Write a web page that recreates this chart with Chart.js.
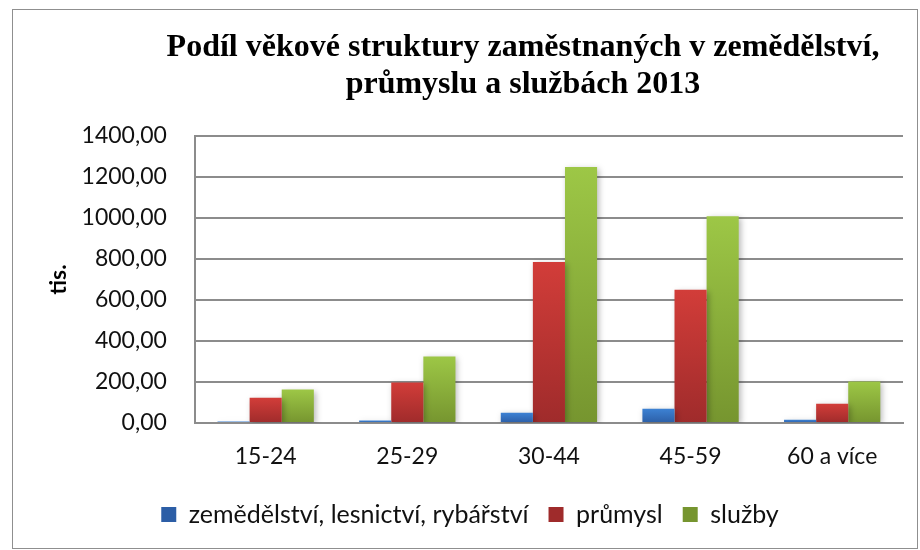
<!DOCTYPE html>
<html>
<head>
<meta charset="utf-8">
<script src="https://cdn.jsdelivr.net/npm/chart.js@4"></script>
<style>
  body { margin: 0; background: #fff; }
  #wrap { position: relative; width: 920px; height: 550px; }
  #frame { position: absolute; left: 12px; top: 9px; width: 904px; height: 538px;
           border: 1.5px solid #8f8f8f; pointer-events: none; }
</style>
</head>
<body>
<div id="wrap">
  <canvas id="ageChart" width="920" height="550"></canvas>
  <div id="frame"></div>
</div>
<script>
// Age groups
const ageGroups = ['15-24', '25-29', '30-44', '45-59', '60 a více'];

// Employed persons (thousands) per sector
const zemedelstvi = [7, 12, 50, 70, 16];
const prumysl = [123, 198, 785, 650, 94];
const sluzby = [163, 325, 1249, 1008, 203];

// Y axis range
const yMin = 0;
const yMax = 1400;
const yStep = 200;

const titleLines = ['Podíl věkové struktury zaměstnaných v zemědělství,', 'průmyslu a službách 2013'];

// vertical gradient per bar: light at the top, dark at the bottom
function barGradient(light, dark) {
    return function (context) {
        const chart = context.chart;
        if (!chart.chartArea || context.type !== 'data') return light;
        const yScale = chart.scales.y;
        const top = yScale.getPixelForValue(context.raw);
        const base = yScale.getPixelForValue(0);
        if (!isFinite(top) || base - top < 1) return dark;
        const g = chart.ctx.createLinearGradient(0, top, 0, base);
        g.addColorStop(0, light);
        g.addColorStop(1, dark);
        return g;
    };
}

// title drawn in serif bold like the original
const titlePlugin = {
    id: 'serifTitle',
    afterDraw(chart) {
        const ctx = chart.ctx;
        ctx.save();
        ctx.font = 'bold 32px "Liberation Serif", "Times New Roman", serif';
        ctx.fillStyle = '#000';
        ctx.textAlign = 'center';
        ctx.textBaseline = 'alphabetic';
        ctx.fillText(titleLines[0], 523, 56);
        ctx.fillText(titleLines[1], 523, 93);
        ctx.restore();
    }
};

// soft shadow behind bars
const shadowPlugin = {
    id: 'barShadow',
    beforeDatasetsDraw(chart) {
        const ctx = chart.ctx;
        ctx.save();
        ctx.shadowColor = 'rgba(0,0,0,0.28)';
        ctx.shadowBlur = 6;
        ctx.shadowOffsetX = 2;
        ctx.shadowOffsetY = 2;
    },
    afterDatasetsDraw(chart) {
        chart.ctx.restore();
    }
};

const fontFamily = 'Lato, "Open Sans", sans-serif';
const tickFont = { family: fontFamily, size: 23 };

new Chart(document.getElementById('ageChart').getContext('2d'), {
    type: 'bar',
    data: {
        labels: ageGroups,
        datasets: [
            {
                label: 'zemědělství, lesnictví, rybářství',
                data: zemedelstvi,
                backgroundColor: barGradient('#3d82d4', '#2c5ea6')
            },
            {
                label: 'průmysl',
                data: prumysl,
                backgroundColor: barGradient('#d23d39', '#9f2b2b')
            },
            {
                label: 'služby',
                data: sluzby,
                backgroundColor: barGradient('#9dc746', '#76952f')
            }
        ]
    },
    options: {
        responsive: false,
        animation: false,
        categoryPercentage: 0.68,
        barPercentage: 1.0,
        layout: {
            padding: { top: 136, right: 17, bottom: 13, left: 37 }
        },
        scales: {
            x: {
                grid: { display: false },
                border: { color: '#8c8c8c', width: 2 },
                ticks: { color: '#111', font: { family: fontFamily, size: 23, lineHeight: 1.0 }, padding: 14 }
            },
            y: {
                min: yMin,
                max: yMax,
                grid: { color: '#8c8c8c', lineWidth: 2, drawTicks: false },
                border: { color: '#8c8c8c', width: 2 },
                ticks: {
                    stepSize: yStep,
                    color: '#111',
                    font: tickFont,
                    padding: 28,
                    callback: (v) => v.toFixed(2).replace('.', ',')
                },
                title: {
                    display: true,
                    text: 'tis.',
                    color: '#000',
                    font: { family: fontFamily, size: 23, weight: 'bold' },
                    padding: { top: 8, bottom: -19 }
                }
            }
        },
        plugins: {
            legend: {
                position: 'bottom',
                labels: {
                    color: '#111',
                    font: { family: fontFamily, size: 25, lineHeight: 1.0 },
                    boxWidth: 15,
                    boxHeight: 15,
                    padding: 20
                }
            },
            tooltip: { enabled: false }
        }
    },
    plugins: [titlePlugin, shadowPlugin]
});
</script>
</body>
</html>
